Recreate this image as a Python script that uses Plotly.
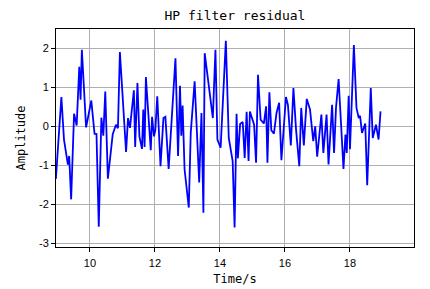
import plotly.graph_objects as go

time_s = [8.95, 9.12, 9.2, 9.32, 9.36, 9.42, 9.51, 9.59, 9.67, 9.71, 9.75, 9.88,
          10.04, 10.14, 10.2, 10.27, 10.35, 10.41, 10.47, 10.55, 10.7, 10.8, 10.86, 10.92,
          11.11, 11.17, 11.23, 11.35, 11.39, 11.46, 11.52, 11.6, 11.64, 11.68, 11.72,
          11.82, 11.87, 11.91, 11.97, 12.01, 12.07, 12.17, 12.26, 12.32, 12.42, 12.63,
          12.71, 12.77, 12.81, 12.85, 12.91, 13.04, 13.1, 13.22, 13.36, 13.43, 13.49,
          13.53, 13.78, 13.86, 13.92, 14.02, 14.18, 14.27, 14.39, 14.45, 14.51, 14.55,
          14.62, 14.7, 14.76, 14.82, 14.88, 14.92, 15.05, 15.11, 15.17, 15.25, 15.35,
          15.42, 15.46, 15.52, 15.58, 15.66, 15.74, 15.82, 15.89, 16.03, 16.09, 16.18,
          16.26, 16.34, 16.44, 16.5, 16.58, 16.67, 16.77, 16.87, 16.93, 16.99, 17.12,
          17.18, 17.28, 17.34, 17.45, 17.51, 17.57, 17.65, 17.8, 17.86, 17.9, 17.96,
          18.0, 18.12, 18.2, 18.27, 18.31, 18.37, 18.47, 18.53, 18.64, 18.7, 18.8,
          18.88, 18.94]

residual = [-1.35, 0.75, -0.34, -0.98, -0.76, -1.87, 0.32, 0.02, 1.52, 0.68, 1.96, -0.03,
            0.66, -0.19, -0.2, -2.57, 0.22, -0.24, 0.89, -1.34, -0.2, 0.04, -0.05, 1.9,
            -0.66, 0.21, -0.04, 0.92, -0.53, 1.11, -0.26, -0.58, 0.43, -0.53, 1.26,
            -0.04, -0.61, 0.24, -0.26, -0.1, 0.77, -1.02, 0.21, 0.24, -1.09, 1.74,
            -0.76, 1.04, -0.24, 0.53, -1.1, -2.08, -0.17, 1.15, -1.44, 0.34, -2.21,
            1.87, 0.21, 1.96, -0.34, -0.55, 2.19, -0.3, -0.89, -2.59, 0.32, -0.82,
            0.06, 0.11, -0.81, 0.37, -0.89, 0.38, 0.04, -0.93, 1.32, 0.17, 0.07,
            0.51, -0.93, 0.87, -0.1, -0.19, 0.34, 0.6, -0.87, 0.75, 0.55, -0.49,
            0.98, -0.08, -1.02, 0.47, -0.49, 0.7, 0.43, -0.38, 0.0, -0.78, 0.3,
            -0.68, 0.3, -0.98, 0.55, -0.68, 0.47, 1.21, -1.09, -0.21, -0.68, 0.78,
            -0.59, 2.08, 0.47, 0.21, 0.27, -0.17, 0.07, -1.51, 0.98, -0.3, 0.04,
            -0.34, 0.38]

x_ticks = [10, 12, 14, 16, 18]
y_ticks = [-3, -2, -1, 0, 1, 2]
y_tick_text = ["-3", "-2", "-1", "0", "1", "2"]

fig = go.Figure()
fig.add_trace(go.Scatter(x=time_s, y=residual, mode="lines",
                         line=dict(color="#0000ff", width=1.8), showlegend=False))

axis_common = dict(showline=True, linecolor="black", linewidth=1, mirror=True,
                   showgrid=True, gridcolor="#b0b0b0", gridwidth=1,
                   ticks="outside", ticklen=4, tickcolor="black", tickwidth=1,
                   zeroline=False, automargin=False,
                   tickfont=dict(family="Liberation Sans, Arial, sans-serif", size=11, color="black"))

fig.update_xaxes(range=[8.954, 19.97], tickvals=x_ticks, ticklabelstandoff=2,
                 title=dict(text="Time/s", standoff=6,
                            font=dict(family="DejaVu Sans Mono, monospace", size=12, color="black")),
                 **axis_common)
fig.update_yaxes(range=[-3.09, 2.49], tickvals=y_ticks, ticktext=y_tick_text,
                 title=dict(text="Amplitude", standoff=10,
                            font=dict(family="DejaVu Sans Mono, monospace", size=12, color="black")),
                 **axis_common)

fig.update_layout(
    width=430, height=289,
    margin=dict(l=56, r=16, t=29, b=42, autoexpand=False),
    paper_bgcolor="white", plot_bgcolor="white",
    title=dict(text="HP filter residual", x=0.5, xanchor="center", xref="paper",
               y=0.948, yanchor="middle", yref="container",
               font=dict(family="DejaVu Sans Mono, monospace", size=13, color="black")),
)

fig.write_html("out.html")
